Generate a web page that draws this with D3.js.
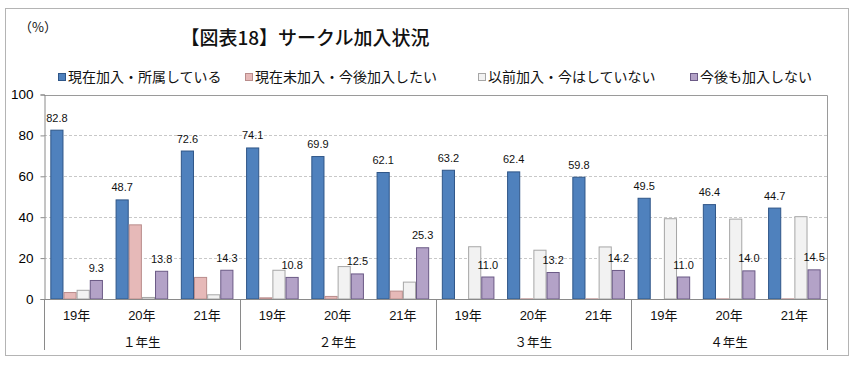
<!DOCTYPE html>
<html>
<head>
<meta charset="utf-8">
<script src="https://cdn.jsdelivr.net/npm/d3@7"></script>
<style>
  body { margin: 0; background: #fff; }
  text { font-family: "Liberation Sans", "Noto Sans CJK JP", sans-serif; }
</style>
</head>
<body>
<div id="chart"></div>
<script>
// data
var grades = ["１年生", "２年生", "３年生", "４年生"];
var years = ["19年", "20年", "21年"];
var seriesNames = ["現在加入・所属している", "現在未加入・今後加入したい", "以前加入・今はしていない", "今後も加入しない"];
var joined   = [82.8, 48.7, 72.6, 74.1, 69.9, 62.1, 63.2, 62.4, 59.8, 49.5, 46.4, 44.7];
var wantJoin = [3.4, 36.5, 10.8, 0.8, 1.5, 4.1, 0, 0.3, 0.3, 0, 0.3, 0.3];
var quit     = [4.5, 1.0, 2.3, 14.3, 16.1, 8.5, 25.8, 24.1, 25.7, 39.5, 39.3, 40.5];
var never    = [9.3, 13.8, 14.3, 10.8, 12.5, 25.3, 11.0, 13.2, 14.2, 11.0, 14.0, 14.5];
var yTicks = [0, 20, 40, 60, 80, 100];

var values = [joined, wantJoin, quit, never];
var fills = ["#4f81bd", "#e6b9b8", "#f2f2f2", "#b3a2c7"];
var strokes = ["#2f5688", "#b98c8b", "#a6a6a6", "#6b5a86"];
var showLabel = [true, false, false, true];

var W = 856, H = 369;
var pL = 44, pR = 827, pT = 94.5, pB = 299;

var svg = d3.select("#chart").append("svg")
  .attr("width", W)
  .attr("height", H);

// outer frame
svg.append("rect")
  .attr("x", 5.5).attr("y", 8.5)
  .attr("width", 843).attr("height", 347)
  .attr("fill", "#fff")
  .attr("stroke", "#b4b4b4");

// title and unit
svg.append("text")
  .attr("x", 305).attr("y", 45)
  .attr("text-anchor", "middle")
  .attr("font-size", "19px")
  .attr("font-weight", 500)
  .attr("fill", "#111")
  .style("font-family", "Noto Sans CJK JP, sans-serif")
  .text("【図表18】サークル加入状況");
svg.append("text")
  .attr("x", 19).attr("y", 32)
  .attr("font-size", "13px")
  .attr("fill", "#111")
  .style("font-family", "Noto Sans CJK JP, sans-serif")
  .text("（%）");

// categories = grade x year
var cats = [];
grades.forEach(function(g) {
  years.forEach(function(yr) { cats.push(g + "|" + yr); });
});

var x = d3.scaleBand().domain(cats).range([pL, pR]).padding(0);
var xs = d3.scaleBand().domain(d3.range(4))
  .range([x.bandwidth() * 0.097, x.bandwidth() * 0.903]).padding(0);
var y = d3.scaleLinear().domain([0, 100]).range([pB, pT]);

// grid lines
svg.append("g").selectAll("line")
  .data(yTicks.filter(function(t) { return t > 0 && t < 100; }))
  .enter().append("line")
  .attr("x1", pL).attr("x2", pR)
  .attr("y1", function(d) { return Math.round(y(d)) + 0.5; })
  .attr("y2", function(d) { return Math.round(y(d)) + 0.5; })
  .attr("stroke", "#c8c8c8")
  .attr("stroke-dasharray", "3,2");

// plot border (top/right)
svg.append("path")
  .attr("d", "M" + pL + "," + Math.round(pT) + ".5H" + (pR + 0.5) + "V" + pB)
  .attr("fill", "none")
  .attr("stroke", "#9a9a9a");

// y axis
var yAxis = d3.axisLeft(y).tickValues(yTicks).tickSize(4).tickPadding(7);
var gy = svg.append("g")
  .attr("transform", "translate(" + (pL + 0.5) + ",0)")
  .call(yAxis);
gy.select(".domain").attr("stroke", "#8a8a8a");
gy.selectAll(".tick line").attr("stroke", "#8a8a8a");
gy.selectAll(".tick text")
  .attr("font-size", "13.5px")
  .attr("fill", "#000")
  .style("font-family", "Liberation Sans, Arial, sans-serif");

// bars
seriesNames.forEach(function(name, si) {
  svg.append("g").selectAll("rect")
    .data(values[si])
    .enter().append("rect")
    .attr("x", function(d, i) { return x(cats[i]) + xs(si) + 0.5; })
    .attr("y", function(d) { return y(d) + 0.5; })
    .attr("width", xs.bandwidth() - 1)
    .attr("height", function(d) { return Math.max(0, pB - y(d) - 0.5); })
    .attr("fill", fills[si])
    .attr("stroke", strokes[si])
    .attr("stroke-width", 1);

  if (showLabel[si]) {
    svg.append("g").selectAll("text")
      .data(values[si])
      .enter().append("text")
      .attr("x", function(d, i) { return x(cats[i]) + xs(si) + xs.bandwidth() / 2; })
      .attr("y", function(d) { return y(d) - 8; })
      .attr("text-anchor", "middle")
      .attr("font-size", "11px")
      .attr("fill", "#111")
      .text(function(d) { return d.toFixed(1); });
  }
});

// x axis line
svg.append("line")
  .attr("x1", pL).attr("x2", pR + 0.5)
  .attr("y1", pB + 0.5).attr("y2", pB + 0.5)
  .attr("stroke", "#8a8a8a");

// year labels
svg.append("g").selectAll("text")
  .data(cats)
  .enter().append("text")
  .attr("x", function(d) { return x(d) + x.bandwidth() / 2; })
  .attr("y", 320)
  .attr("text-anchor", "middle")
  .attr("font-size", "13px")
  .attr("fill", "#111")
  .text(function(d) { return d.split("|")[1]; });

// grade labels and dividers
var gx = d3.scaleBand().domain(grades).range([pL, pR]);
svg.append("g").selectAll("text")
  .data(grades)
  .enter().append("text")
  .attr("x", function(d) { return gx(d) + gx.bandwidth() / 2; })
  .attr("y", 347)
  .attr("text-anchor", "middle")
  .attr("font-size", "12.5px")
  .attr("fill", "#111")
  .text(function(d) { return d; });

svg.append("g").selectAll("line")
  .data(grades.concat(["end"]))
  .enter().append("line")
  .attr("x1", function(d) { return Math.round(d === "end" ? pR : gx(d)) + 0.5; })
  .attr("x2", function(d) { return Math.round(d === "end" ? pR : gx(d)) + 0.5; })
  .attr("y1", pB)
  .attr("y2", 350)
  .attr("stroke", "#8a8a8a");

// legend
var legX = [58, 245, 478, 690];
var leg = svg.append("g").selectAll("g")
  .data(seriesNames)
  .enter().append("g")
  .attr("transform", function(d, i) { return "translate(" + legX[i] + ",77)"; });
leg.append("rect")
  .attr("x", 0.5).attr("y", -3.5)
  .attr("width", 7).attr("height", 7)
  .attr("fill", function(d, i) { return fills[i]; })
  .attr("stroke", function(d, i) { return strokes[i]; });
leg.append("text")
  .attr("x", 10).attr("y", 5)
  .attr("font-size", "14px")
  .attr("fill", "#111")
  .text(function(d) { return d; });
</script>
</body>
</html>
